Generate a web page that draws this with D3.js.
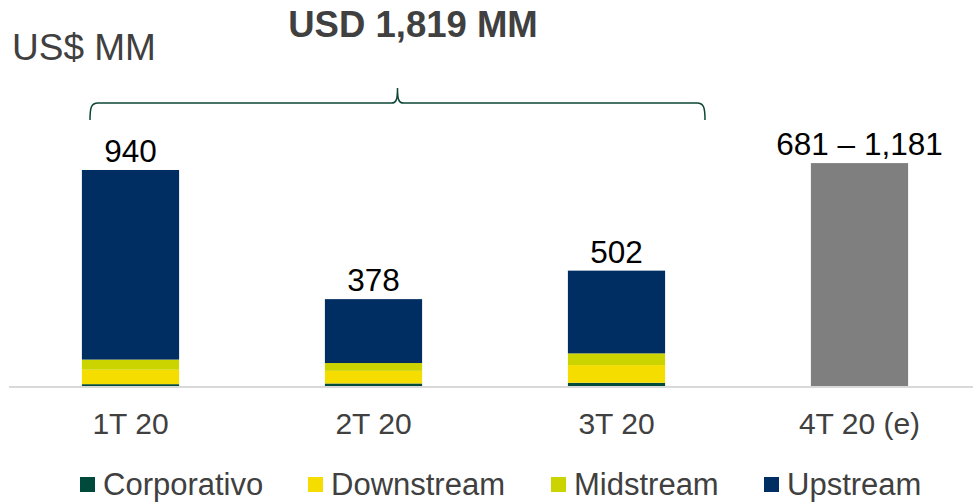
<!DOCTYPE html>
<html>
<head>
<meta charset="utf-8">
<script src="https://cdn.jsdelivr.net/npm/d3@7"></script>
<style>
  body { margin: 0; background: #fff; }
  svg { display: block; font-family: "Liberation Sans", Arial, sans-serif; }
</style>
</head>
<body>
<svg id="chart" width="974" height="503"></svg>
<script>
// quarters and stacked segments (US$ MM)
const quarters = ["1T 20", "2T 20", "3T 20", "4T 20 (e)"];
const segments = ["Corporativo", "Downstream", "Midstream", "Upstream"];
const corporativo = [8, 11, 14, 0];
const downstream = [63, 55, 77, 0];
const midstream = [44, 34, 51, 0];
const upstream = [825, 278, 360, 0];
const estimate = [0, 0, 0, 970];
const totalLabels = ["940", "378", "502", "681 – 1,181"];
const colors = ["#004a3b", "#f6dd00", "#ccd400", "#002d62"];

const svg = d3.select("#chart");

// build rows for the stack
const rows = quarters.map((q, i) => ({
    q: q,
    Corporativo: corporativo[i],
    Downstream: downstream[i],
    Midstream: midstream[i],
    Upstream: upstream[i],
    est: estimate[i]
}));

const x = d3.scaleBand()
    .domain(quarters)
    .range([9, 981])
    .paddingInner(0.6)
    .paddingOuter(0.3);

const y = d3.scaleLinear()
    .domain([0, 1000])
    .range([386, 156.2]);

const color = d3.scaleOrdinal().domain(segments).range(colors);

const stack = d3.stack().keys(segments)(rows);

// stacked bars
svg.append("g")
    .selectAll("g")
    .data(stack)
    .join("g")
    .attr("fill", d => color(d.key))
    .selectAll("rect")
    .data(d => d.filter(p => p[1] > p[0]))
    .join("rect")
    .attr("x", d => x(d.data.q))
    .attr("y", d => y(d[1]))
    .attr("width", x.bandwidth())
    .attr("height", d => y(d[0]) - y(d[1]));

// estimated quarter in grey
svg.append("g")
    .selectAll("rect")
    .data(rows.filter(d => d.est > 0))
    .join("rect")
    .attr("x", d => x(d.q))
    .attr("y", d => y(d.est))
    .attr("width", x.bandwidth())
    .attr("height", d => y(0) - y(d.est))
    .attr("fill", "#7f7f7f");

// baseline
svg.append("line")
    .attr("x1", 9).attr("x2", 973)
    .attr("y1", y(0) + 1).attr("y2", y(0) + 1)
    .attr("stroke", "#d9d9d9")
    .attr("stroke-width", 2);

// value labels
const totals = rows.map(d => d.Corporativo + d.Downstream + d.Midstream + d.Upstream + d.est);
svg.append("g")
    .selectAll("text")
    .data(quarters)
    .join("text")
    .attr("x", d => x(d) + x.bandwidth() / 2)
    .attr("y", (d, i) => y(totals[i]) - 8)
    .attr("text-anchor", "middle")
    .attr("font-size", 31.5)
    .attr("fill", "#000")
    .text((d, i) => totalLabels[i]);

// category labels
svg.append("g")
    .selectAll("text")
    .data(quarters)
    .join("text")
    .attr("x", d => x(d) + x.bandwidth() / 2)
    .attr("y", 434)
    .attr("text-anchor", "middle")
    .attr("font-size", 30)
    .attr("fill", "#404040")
    .text(d => d);

// unit and title
svg.append("text")
    .attr("x", 12).attr("y", 60)
    .attr("font-size", 37)
    .attr("fill", "#404040")
    .text("US$ MM");

svg.append("text")
    .attr("x", 413).attr("y", 37)
    .attr("text-anchor", "middle")
    .attr("font-size", 36.5)
    .attr("font-weight", "bold")
    .attr("fill", "#404040")
    .text("USD 1,819 MM");

// brace over the first three quarters
const bx0 = 90, bx1 = 705, bm = (bx0 + bx1) / 2, by = 103;
const brace = `M${bx0},120 C${bx0},108 ${bx0 + 1},${by} ${bx0 + 8},${by}
  L${bm - 6},${by} C${bm - 1},${by} ${bm},${by - 4} ${bm},88
  C${bm},${by - 4} ${bm + 1},${by} ${bm + 6},${by}
  L${bx1 - 8},${by} C${bx1 - 1},${by} ${bx1},108 ${bx1},120`;
svg.append("path")
    .attr("d", brace)
    .attr("fill", "none")
    .attr("stroke", "#0d4536")
    .attr("stroke-width", 1.5);

// legend
const legendX = [80, 308, 551, 764];
const legend = svg.append("g")
    .selectAll("g")
    .data(segments)
    .join("g")
    .attr("transform", (d, i) => `translate(${legendX[i]},477)`);
legend.append("rect")
    .attr("width", 15).attr("height", 15)
    .attr("fill", d => color(d));
legend.append("text")
    .attr("x", 23).attr("y", 18)
    .attr("font-size", 31)
    .attr("fill", "#404040")
    .text(d => d);
</script>
</body>
</html>
